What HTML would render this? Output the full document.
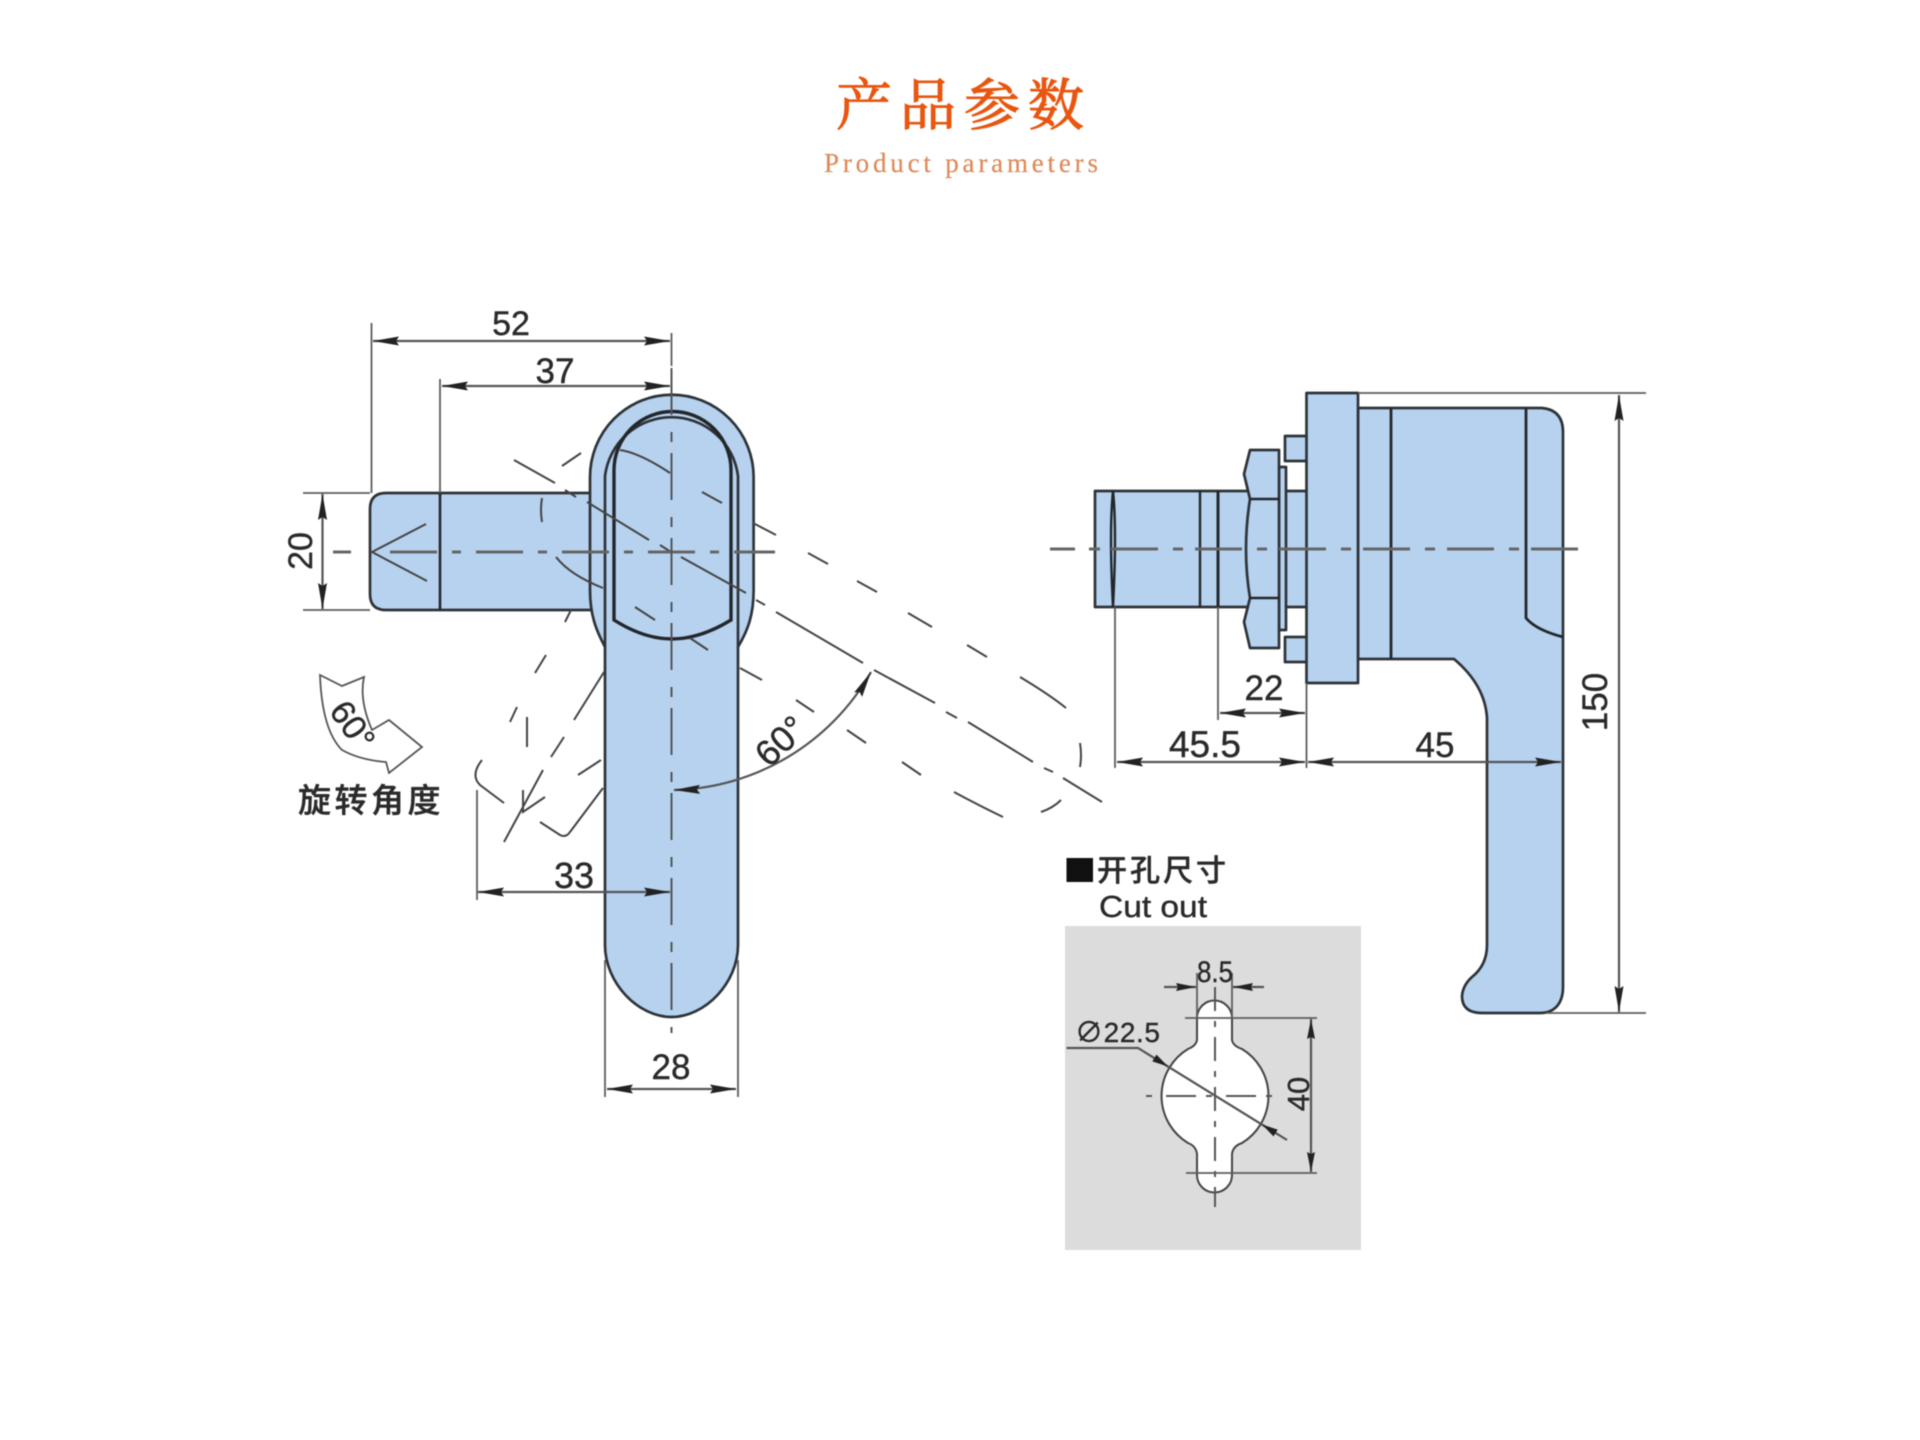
<!DOCTYPE html>
<html lang="zh">
<head>
<meta charset="utf-8">
<title>产品参数</title>
<style>
html,body{margin:0;padding:0;background:#fff}
svg{display:block;filter:blur(0.45px)}
text{font-family:"Liberation Sans","Noto Sans CJK SC",sans-serif;fill:#2a2a2a;stroke:#2a2a2a;stroke-width:.4}
.b{fill:#b6d2ef;stroke:#2e3338;stroke-width:2.7;stroke-linejoin:round}
.k{fill:none;stroke:#23272b;stroke-width:3}
.t{fill:none;stroke:#5d5d5d;stroke-width:1.8}
.d{fill:none;stroke:#555;stroke-width:2.2}
.p{fill:none;stroke:#444;stroke-width:2}
.a{fill:none;stroke:#666;stroke-width:3}
.c{fill:none;stroke:#555;stroke-width:2}
</style>
</head>
<body>
<svg width="1920" height="1440" viewBox="0 0 1920 1440" xmlns="http://www.w3.org/2000/svg">
<defs>
<marker id="m" markerUnits="userSpaceOnUse" markerWidth="28" markerHeight="12" refX="26" refY="5" orient="auto-start-reverse"><path d="M0,0.5 L26,5 L0,9.5 L3,5 Z" fill="#222"/></marker>
<marker id="s" markerUnits="userSpaceOnUse" markerWidth="22" markerHeight="10" refX="20" refY="4" orient="auto-start-reverse"><path d="M0,0 L20,4 L0,8 L2,4 Z" fill="#222"/></marker>
</defs>
<rect width="1920" height="1440" fill="#fff"/>

<!-- Title -->
<text x="836" y="125" style="font-family:'Noto Serif CJK SC','Liberation Serif',serif;font-size:56px;letter-spacing:8px;fill:#e8560f;stroke:#e8560f;stroke-width:1.1">产品参数</text>
<text x="824" y="172" textLength="274" style="font-family:'Liberation Serif',serif;font-size:27px;fill:#de8a5a;stroke:#de8a5a;stroke-width:.2">Product parameters</text>

<!-- LEFT VIEW -->
<path class="b" d="M592,493 H386 Q370,493 370,509 V594 Q370,610 386,610 H592 Z"/>
<path class="k" d="M440,493 V610" style="stroke-width:2.6"/>
<path class="p" d="M426,524 L372,552 L427,581"/>
<path class="b" d="M605,647 C596,630 590,615 590,590 V477 A81.8,82.3 0 0 1 753.6,477 V590 C753.6,615 748,630 738,647 Z"/>
<path class="b" d="M605,476 A67,67 0 0 1 738,476 V945 C738,983 705,1017 671.5,1017 C638,1017 605,983 605,945 Z"/>
<path class="k" d="M614,620 V470 A58.5,58.5 0 0 1 731,470 V620 Q700,639 672,639 Q644,639 614,620 Z" style="stroke-width:3.4"/>

<!-- phantom right -->
<g class="p">
<path d="M514,460 L555,483 M565,490 L576,497 M587,502 L649,540 M660,545 L671,552 M681,557 L746,593 M756,600 L765,605 M776,612 L863,663 M874,670 L935,703 M946,712 L957,718 M968,722 L1033,762 M1044,768 L1053,772 M1063,778 L1102,802"/>
<path d="M702,492 L722,503 M753,523 L776,535 M808,553 L828,564 M857,581 L877,592 M908,613 L932,627 M967,645 L987,657 M1020,677 Q1050,695 1066,708"/>
<path d="M635,607 L655,620 M690,638 L708,650 M740,668 L762,680 M796,700 L814,712 M847,730 L866,743 M902,762 L921,775 M954,792 Q980,806 1003,817"/>
<path d="M1080,743 Q1082,755 1080,767 M1041,812 Q1053,808 1061,800"/>
<path d="M620,450 Q640,453 670,473"/>
<path d="M562,466 L581,453 M542,498 Q540,510 542,522 M556,557 Q570,575 603,588"/>
</g>
<!-- phantom left -->
<g class="p">
<path d="M571,610 L565,622 M546,655 L535,673 M517,707 L510,722"/>
<path d="M604,672 L574,720 M564,737 L551,757 M543,770 L504,842"/>
<path d="M527,717 V747"/>
<path d="M523,790 V812 L545,797"/>
<path d="M482,760 Q470,775 480,785 L504,803"/>
<path d="M540,822 L560,835 Q566,838 570,832 L603,788"/>
<path d="M578,775 L601,760"/>
</g>

<!-- axes -->
<path class="a" d="M333,552 H351"/>
<path class="a" d="M390,552 H775" stroke-dasharray="47 15 9 15"/>
<path class="c" d="M671.5,368 V1033" stroke-dasharray="47 17 10 11"/>

<!-- dims left -->
<path class="t" d="M371.5,323 V493 M440,379 V493 M671.5,333 V366 M303,493 H370 M303,610 H370 M477,790 V900 M605,960 V1097 M738,960 V1097"/>
<path class="d" d="M373,341 H670" marker-start="url(#m)" marker-end="url(#m)"/>
<path class="d" d="M442,386 H670" marker-start="url(#m)" marker-end="url(#m)"/>
<path class="d" d="M322.5,494 V609" marker-start="url(#m)" marker-end="url(#m)"/>
<path class="d" d="M478,892 H670" marker-start="url(#m)" marker-end="url(#m)"/>
<path class="d" d="M607,1089 H736" marker-start="url(#m)" marker-end="url(#m)"/>
<path class="d" d="M674,790 A233,233 0 0 0 871,672" marker-start="url(#m)" marker-end="url(#m)"/>

<text x="511" y="335" font-size="34" text-anchor="middle">52</text>
<text x="555" y="383" font-size="35" text-anchor="middle">37</text>
<text transform="translate(312,551) rotate(-90)" font-size="34" text-anchor="middle">20</text>
<text x="574" y="888" font-size="36" text-anchor="middle">33</text>
<text x="671" y="1079" font-size="35" text-anchor="middle">28</text>
<text transform="translate(789,750) rotate(-43)" font-size="36" text-anchor="middle">60°</text>

<!-- rotation icon -->
<path d="M320,675 L342,686 L364,677 Q359,700 372,730 L389,720 L422,747 L389,773 L386,762 Q360,760 342,750 Q322,730 320,675 Z" fill="#fff" stroke="#555" stroke-width="1.8"/>
<text transform="translate(343,732) rotate(55)" font-size="34" text-anchor="middle">60°</text>
<text x="298" y="812" font-size="33" letter-spacing="3.5" style="font-weight:500">旋转角度</text>

<!-- RIGHT VIEW -->
<rect class="b" x="1095" y="491" width="212" height="116"/>
<path class="k" d="M1113,491 Q1117,530 1113,607 M1113,491 Q1109,530 1113,607 M1200,491 V607" style="stroke-width:2.4"/>
<path class="k" d="M1218,491 V607"/>
<rect class="b" x="1285" y="436" width="23" height="25"/>
<rect class="b" x="1285" y="637" width="23" height="25"/>
<path class="b" d="M1279,467 H1286 V630 H1279 Z"/>
<path class="b" d="M1250,450 H1279 V648 H1250 L1244,622 L1250,598 Q1242,550 1250,499 L1244,474 Z"/>
<path class="k" d="M1250,499 H1279 M1250,598 H1279" style="stroke-width:2.5"/>
<path class="b" d="M1358,408 H1542 Q1563,410 1563,432 V987 C1563,1003 1555,1013 1540,1013 H1482 Q1462,1013 1462,996 Q1463,985 1472,977 Q1487,965 1487,945 V718 Q1485,685 1454,659 H1358 Z"/>
<path class="k" d="M1391,408 V659 M1526,408 V618 Q1536,630 1563,637" style="stroke-width:2.8"/>
<rect class="b" x="1306.5" y="393" width="51.5" height="290"/>
<path class="a" d="M1050,549 H1075 M1089,549 H1100"/>
<path class="a" d="M1111,549 H1581" stroke-dasharray="47 15 10 12"/>

<path class="t" d="M1358,393 H1646 M1546,1013 H1646 M1115,607 V768 M1218,607 V720 M1306.5,683 V768"/>
<path class="d" d="M1619,395 V1012" marker-start="url(#m)" marker-end="url(#m)"/>
<path class="d" d="M1117,762 H1305" marker-start="url(#m)" marker-end="url(#m)"/>
<path class="d" d="M1308,762 H1561" marker-start="url(#m)" marker-end="url(#m)"/>
<path class="d" d="M1220,713 H1305" marker-start="url(#m)" marker-end="url(#m)"/>
<text x="1264" y="700" font-size="35" text-anchor="middle">22</text>
<text x="1205" y="757" font-size="37" text-anchor="middle">45.5</text>
<text x="1435" y="757" font-size="35" text-anchor="middle">45</text>
<text transform="translate(1607,702) rotate(-90)" font-size="35" text-anchor="middle">150</text>

<!-- CUT OUT -->
<rect x="1066.5" y="858" width="26.5" height="24" fill="#111"/>
<text x="1097" y="881" font-size="30" letter-spacing="3" style="font-weight:500">开孔尺寸</text>
<text x="1099" y="917" font-size="31" textLength="108" lengthAdjust="spacingAndGlyphs">Cut out</text>
<rect x="1065" y="926" width="296" height="324" fill="#dcdcdc"/>
<path d="M1197,1018 A17.5,17.5 0 0 1 1232,1018 V1040 Q1233,1046 1242,1049 A55,55 0 0 1 1242,1143 Q1233,1146 1232,1154 V1175 A17.5,17.5 0 0 1 1197,1175 V1154 Q1196,1146 1188,1143 A55,55 0 0 1 1188,1049 Q1196,1046 1197,1040 Z" fill="#fff" stroke="#444" stroke-width="2"/>
<path class="c" d="M1215,987 V1207" stroke-dasharray="24 10 6 10"/>
<path class="c" d="M1146,1096 H1285" stroke-dasharray="6 14 30 10"/>
<path class="t" d="M1197,973 V1017 M1232,973 V1017 M1185,1018 H1317 M1186,1173 H1317"/>
<path class="d" d="M1164,987 H1196" marker-end="url(#s)"/>
<path class="d" d="M1264,987 H1233" marker-end="url(#s)"/>
<path class="d" d="M1311,1019 V1172" marker-start="url(#s)" marker-end="url(#s)"/>
<path class="d" d="M1066.5,1048 H1138 L1287,1140"/>
<path d="M1168,1066.5 L1156.5,1054.6 L1152.3,1061.4 Z M1262,1124.5 L1277.7,1129.6 L1273.5,1136.4 Z" fill="#222"/>
<text x="1215" y="982" font-size="30" text-anchor="middle" textLength="36" lengthAdjust="spacingAndGlyphs">8.5</text>
<text x="1075" y="1042" font-size="28" textLength="85">∅22.5</text>
<text transform="translate(1309,1094) rotate(-90)" font-size="31" text-anchor="middle">40</text>
</svg>
</body>
</html>
